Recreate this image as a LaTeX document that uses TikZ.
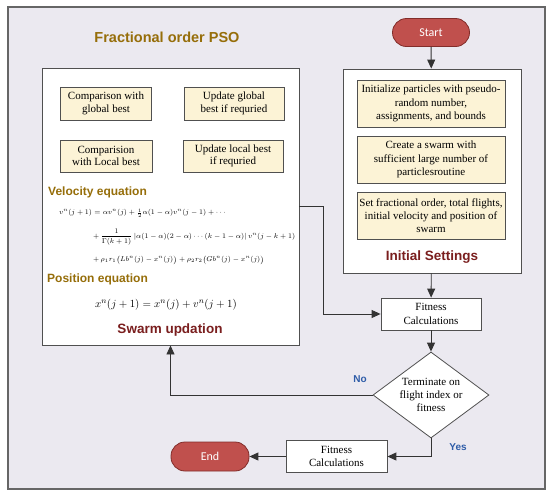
\documentclass[tikz,border=0pt]{standalone}
\usepackage{amsmath}
\usepackage{fontspec}
\setmainfont{Liberation Serif}
\setsansfont{Liberation Sans}
\newfontfamily\capfont{Carlito}
\usetikzlibrary{shapes.geometric,arrows.meta}
\definecolor{bgc}{RGB}{235,233,240}
\definecolor{cream}{RGB}{252,243,214}
\definecolor{linec}{RGB}{80,80,80}
\definecolor{termc}{RGB}{192,80,77}
\definecolor{termb}{RGB}{130,45,42}
\definecolor{goldc}{RGB}{150,110,10}
\definecolor{redc}{RGB}{122,30,30}
\definecolor{bluec}{RGB}{46,92,168}
\begin{document}
\begin{tikzpicture}[x=1pt,y=-1pt,
  panel/.style={draw=linec, line width=0.9pt, fill=white, inner sep=0pt},
  ybox/.style={draw=linec, line width=0.8pt, fill=cream, align=center, inner sep=0pt,
    font=\fontsize{11}{13.3}\selectfont},
  wbox/.style={draw=linec, line width=0.8pt, fill=white, align=center, inner sep=0pt,
    font=\fontsize{11}{13.3}\selectfont},
  term/.style={draw=termb, line width=0.8pt, fill=termc, rounded corners=14pt, inner sep=0pt,
    text=white, font=\capfont\fontsize{12}{14}\selectfont},
  head/.style={font=\sffamily\bfseries\fontsize{12}{14}\selectfont, text=goldc, inner sep=0pt},
  subhead/.style={font=\sffamily\bfseries\fontsize{13.5}{16}\selectfont, text=redc, inner sep=0pt},
  lab/.style={font=\sffamily\bfseries\fontsize{10}{12}\selectfont, text=bluec, inner sep=0pt},
  eqn/.style={inner sep=0pt, anchor=west, font=\fontsize{7.1}{8.5}\selectfont},
  arr/.style={draw=black!80, line width=0.9pt, -{Triangle[length=9pt,width=8pt]}}
]
\useasboundingbox (0,0) rectangle (550,496);
\fill[white] (0,0) rectangle (550,496);
\draw[draw=black!60, line width=1.4pt, fill=bgc] (8,7) rectangle (545,489);

% title
\node[font=\sffamily\bfseries\fontsize{14.5}{17}\selectfont, text=goldc, inner sep=0pt] (title) at (167,37) {Fractional order PSO};

% left panel
\node[panel, minimum width=257pt, minimum height=277pt] (swarm) at (170.5,206.5) {};
\node[ybox, minimum width=91pt, minimum height=33pt, font=\fontsize{11}{12.5}\selectfont] (gb) at (106,103.5) {Comparison with\\global best};
\node[ybox, minimum width=100pt, minimum height=33pt, font=\fontsize{11}{12.5}\selectfont] (ugb) at (234,103.5) {Update global\\best if requried};
\node[ybox, minimum width=92pt, minimum height=32pt, font=\fontsize{11}{12.5}\selectfont] (lb) at (106,156) {Comparision\\with Local best};
\node[ybox, minimum width=100pt, minimum height=32pt, font=\fontsize{11}{12.5}\selectfont] (ulb) at (233,156) {Update local best\\if requried};

\node[head, anchor=west] (veq) at (48,192) {Velocity equation};
\node[eqn] (eq1) at (59,213) {$v^n(j+1)=\alpha v^n(j)+\tfrac{1}{2}\alpha(1-\alpha)v^n(j-1)+\cdots$};
\node[eqn] (eq2) at (93,237) {$+\,\dfrac{1}{\Gamma(k+1)}\left|\alpha(1-\alpha)(2-\alpha)\cdots(k-1-\alpha)\right|v^n(j-k+1)$};
\node[eqn] (eq3) at (93,260) {$+\,\rho_1 r_1\bigl(Lb^n(j)-x^n(j)\bigr)+\rho_2 r_2\bigl(Gb^n(j)-x^n(j)\bigr)$};
\node[head, anchor=west] (peq) at (47,279) {Position equation};
\node[inner sep=0pt, font=\fontsize{11.2}{13}\selectfont] (poseq) at (166,305) {$x^n(j+1)=x^n(j)+v^n(j+1)$};
\node[subhead] (swlab) at (170,330) {Swarm updation};

% right panel
\node[term, minimum width=77pt, minimum height=28pt] (start) at (431,32.5) {Start};
\node[panel, minimum width=178pt, minimum height=204pt] (init) at (432,171) {};
\node[ybox, minimum width=148pt, minimum height=47pt] (ia) at (431,103.5) {Initialize particles with pseudo-\\random number,\\assignments, and bounds};
\node[ybox, minimum width=148pt, minimum height=47pt] (ib) at (431,159.5) {Create a swarm with\\sufficient large number of\\particlesroutine};
\node[ybox, minimum width=148pt, minimum height=47pt] (ic) at (431,215.5) {Set fractional order, total flights,\\initial velocity and position of\\swarm};
\node[subhead] (inlab) at (432,257) {Initial Settings};

% lower flow
\node[wbox, minimum width=100pt, minimum height=32pt] (fit1) at (431,314) {Fitness\\Calculations};
\node[wbox, diamond, aspect=1.35, minimum width=116pt, minimum height=86pt] (dia) at (431,395) {Terminate on\\flight index or\\fitness};
\node[wbox, minimum width=101pt, minimum height=32pt] (fit2) at (336.5,456.5) {Fitness\\Calculations};
\node[term, minimum width=78pt, minimum height=29pt] (end) at (210,456.5) {End};

\node[lab] (no) at (360,379) {No};
\node[lab] (yes) at (458,447) {Yes};

% connectors
\draw[arr] (start) -- (init);
\draw[arr] (init) -- (fit1);
\draw[arr] (swarm.east) -- ++(23.7,0) |- (fit1.west);
\draw[arr] (fit1) -- (dia);
\draw[arr] (dia.west) -| (swarm.south);
\draw[arr] (dia.south) |- (fit2.east);
\draw[arr] (fit2) -- (end);
\end{tikzpicture}
\end{document}
